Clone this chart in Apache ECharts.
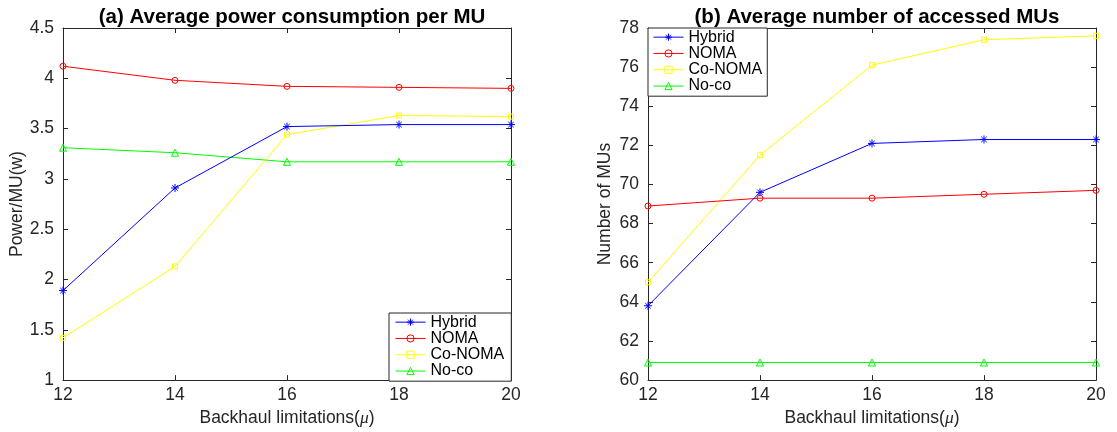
<!DOCTYPE html>
<html><head><meta charset="utf-8">
<script src="https://cdn.jsdelivr.net/npm/echarts@6/dist/echarts.min.js"></script>
<style>html,body{margin:0;padding:0;background:#fff}#c{width:1117px;height:432px}</style>
</head><body><div id="c"></div>
<script>
const xValues = [12, 14, 16, 18, 20];
const seriesNames = ['Hybrid', 'NOMA', 'Co-NOMA', 'No-co'];
// (a) Average power consumption per MU
const powerHybrid = [1.89, 2.91, 3.52, 3.54, 3.54];
const powerNOMA   = [4.12, 3.98, 3.92, 3.91, 3.90];
const powerCoNOMA = [1.42, 2.13, 3.44, 3.63, 3.62];
const powerNoco   = [3.31, 3.26, 3.17, 3.17, 3.17];
// (b) Average number of accessed MUs
const musHybrid = [63.8, 69.6, 72.1, 72.3, 72.3];
const musNOMA   = [68.9, 69.3, 69.3, 69.5, 69.7];
const musCoNOMA = [65.0, 71.5, 76.1, 77.4, 77.6];
const musNoco   = [60.9, 60.9, 60.9, 60.9, 60.9];

const titles = ['(a) Average power consumption per MU', '(b) Average number of accessed MUs'];
const yNames = ['Power/MU(w)', 'Number of MUs'];

const FONT = '"Liberation Sans", Arial, Helvetica, sans-serif';
const AX = '#262626';
const colors = ['#0000ff', '#ff0000', '#ffff00', '#00ff00'];
const asterisk = 'path://M0,5L10,5M5,0L5,10M1.6,1.6L8.4,8.4M1.6,8.4L8.4,1.6';
const symbols = [asterisk, 'circle', 'rect', 'triangle'];
const sizes = [8, 6, 5, 7];

const grids = [
  {left: 63, top: 28, width: 448, height: 353},
  {left: 648, top: 28, width: 448, height: 353}
];
const yRanges = [[1, 4.5, 0.5], [60, 78, 2]];
const yGaps = [36, 34];

function mkSeries(data, gi) {
  return data.map((d, i) => ({
    name: seriesNames[i], type: 'line',
    xAxisIndex: gi * 2, yAxisIndex: gi * 2,
    data: xValues.map((x, k) => [x, d[k]]),
    symbol: symbols[i], symbolSize: sizes[i], showSymbol: true,
    lineStyle: {color: colors[i], width: 1},
    itemStyle: {color: 'rgba(0,0,0,0)', borderColor: colors[i], borderWidth: 1},
    emphasis: {disabled: true}, animation: false, z: 3 + (3 - i)
  }));
}

const xAxes = [], yAxes = [];
grids.forEach((g, gi) => {
  xAxes.push({
    gridIndex: gi, type: 'value', min: 12, max: 20, interval: 2, position: 'bottom',
    name: '{a|Backhaul limitations(}{b|μ}{a|)}', nameLocation: 'middle', nameGap: 22,
    nameTextStyle: {rich: {
      a: {fontFamily: FONT, fontSize: 17.5, color: AX},
      b: {fontFamily: 'Liberation Serif, Times New Roman, serif', fontStyle: 'italic', fontSize: 17.5, color: AX}
    }},
    axisLine: {show: true, onZero: false, lineStyle: {color: AX, width: 1}},
    axisTick: {show: true, inside: true, length: 5, lineStyle: {color: AX}},
    axisLabel: {fontFamily: FONT, fontSize: 17.5, color: AX, margin: 6},
    splitLine: {show: false}
  });
  xAxes.push({
    gridIndex: gi, type: 'value', min: 12, max: 20, interval: 2, position: 'top',
    axisLine: {show: true, onZero: false, lineStyle: {color: AX, width: 1}},
    axisTick: {show: true, inside: true, length: 5, lineStyle: {color: AX}},
    axisLabel: {show: false}, splitLine: {show: false}
  });
  const r = yRanges[gi];
  yAxes.push({
    gridIndex: gi, type: 'value', min: r[0], max: r[1], interval: r[2], position: 'left',
    name: yNames[gi], nameLocation: 'middle', nameGap: yGaps[gi],
    nameTextStyle: {fontFamily: FONT, fontSize: 17.5, color: AX},
    axisLine: {show: true, onZero: false, lineStyle: {color: AX, width: 1}},
    axisTick: {show: true, inside: true, length: 5, lineStyle: {color: AX}},
    axisLabel: {fontFamily: FONT, fontSize: 17.5, color: AX, margin: 9},
    splitLine: {show: false}
  });
  yAxes.push({
    gridIndex: gi, type: 'value', min: r[0], max: r[1], interval: r[2], position: 'right',
    axisLine: {show: true, onZero: false, lineStyle: {color: AX, width: 1}},
    axisTick: {show: true, inside: true, length: 5, lineStyle: {color: AX}},
    axisLabel: {show: false}, splitLine: {show: false}
  });
});

const legendBase = {
  orient: 'vertical', itemWidth: 30, itemHeight: 9, itemGap: 0,
  borderColor: AX, borderWidth: 1, backgroundColor: '#fff',
  itemStyle: {borderWidth: 1},
  lineStyle: {width: 1},
  textStyle: {fontFamily: FONT, fontSize: 16, color: '#000', lineHeight: 16.3},
  selectedMode: false, data: seriesNames, z: 10
};

const option = {
  backgroundColor: '#fff', animation: false,
  title: titles.map((t, i) => ({
    text: t, left: grids[i].left + grids[i].width / 2, top: 2, textAlign: 'center',
    textStyle: {fontFamily: FONT, fontSize: 20.5, fontWeight: 'bold', color: '#000'}
  })),
  grid: grids,
  xAxis: xAxes, yAxis: yAxes,
  legend: [
    Object.assign({}, legendBase, {left: 389, top: 313, padding: [1, 7, 2, 6]}),
    Object.assign({}, legendBase, {left: 648, top: 28, padding: [1, 5, 2, 5]})
  ],
  series: mkSeries([powerHybrid, powerNOMA, powerCoNOMA, powerNoco], 0)
    .concat(mkSeries([musHybrid, musNOMA, musCoNOMA, musNoco], 1))
};
const chart = echarts.init(document.getElementById('c'), null, {renderer: 'canvas'});
chart.setOption(option);
</script></body></html>
